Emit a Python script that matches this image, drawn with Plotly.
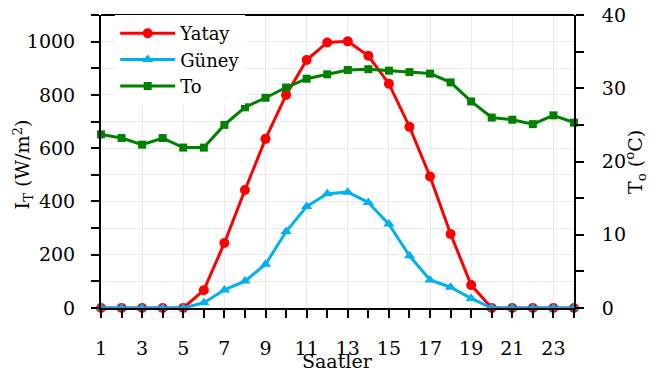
import plotly.graph_objects as go

hours = list(range(1, 25))

# Irradiance on horizontal surface (W/m2)
yatay = [0, 0, 0, 0, 0, 67, 244, 443, 635, 800, 931, 997, 1001, 947, 842, 680,
         494, 278, 86, 0, 0, 0, 0, 0]
# Irradiance on south-facing surface (W/m2)
guney = [0, 0, 0, 0, 0, 20, 68, 101, 164, 287, 381, 429, 435, 396, 315, 196,
         105, 78, 36, 0, 0, 0, 0, 0]
# Outdoor temperature (°C)
to_temp = [23.7, 23.2, 22.3, 23.2, 21.9, 21.9, 25.0, 27.4, 28.7, 30.1, 31.3, 31.9,
           32.5, 32.6, 32.4, 32.2, 32.0, 30.8, 28.2, 26.0, 25.7, 25.1, 26.3, 25.3]

x_tick_vals = list(range(1, 24, 2))
left_ticks = [0, 200, 400, 600, 800, 1000]
right_ticks = [0, 10, 20, 30, 40]

FONT = "DejaVu Serif"
GRID = "#EBEBEB"

fig = go.Figure()
fig.add_trace(go.Scatter(
    x=hours, y=yatay, name="Yatay", mode="lines+markers",
    line=dict(color="#FF0000", width=3),
    marker=dict(symbol="circle", size=10, color="#FF0000"),
    cliponaxis=False,
))
fig.add_trace(go.Scatter(
    x=hours, y=guney, name="Güney", mode="lines+markers",
    line=dict(color="#00B0F0", width=3),
    marker=dict(symbol="triangle-up", size=10, color="#00B0F0"),
    cliponaxis=False,
))
fig.add_trace(go.Scatter(
    x=hours, y=to_temp, name="To", mode="lines+markers", yaxis="y2",
    line=dict(color="#008000", width=3),
    marker=dict(symbol="square", size=8, color="#008000"),
    cliponaxis=False,
))

axis_title = dict(xref="paper", yref="paper", showarrow=False,
                  font=dict(size=19, family=FONT), xanchor="center",
                  yanchor="middle")

fig.update_layout(
    width=668, height=371,
    margin=dict(l=101, r=94, t=15, b=63, autoexpand=False),
    paper_bgcolor="white", plot_bgcolor="white",
    font=dict(family=FONT, size=19, color="black"),
    showlegend=True,
    legend=dict(
        x=0.03, y=1.0, xanchor="left", yanchor="top",
        bgcolor="white", font=dict(size=18, family=FONT),
        itemwidth=55, tracegroupgap=0,
    ),
    xaxis=dict(
        range=[1, 24], tickvals=x_tick_vals, ticktext=[str(v) for v in x_tick_vals],
        showline=True, linecolor="black", linewidth=2, mirror=False,
        ticks="outside", ticklen=8, tickcolor="black", tickwidth=1.5,
        ticklabelstandoff=14, automargin=False,
        tickfont=dict(size=19),
        showgrid=True, gridcolor=GRID, gridwidth=1,
        minor=dict(dtick=1, tick0=1, ticks="outside", ticklen=8,
                   tickcolor="black", showgrid=False),
        zeroline=False,
    ),
    yaxis=dict(
        range=[0, 1100], tickvals=left_ticks,
        showline=True, linecolor="black", linewidth=2,
        ticks="outside", ticklen=8, tickcolor="black", tickwidth=1.5,
        ticklabelstandoff=12, automargin=False,
        tickfont=dict(size=19),
        showgrid=True, gridcolor=GRID, gridwidth=1,
        minor=dict(dtick=100, tick0=0, ticks="outside", ticklen=8,
                   tickcolor="black", showgrid=True, gridcolor=GRID),
        zeroline=False,
    ),
    yaxis2=dict(
        range=[0, 40], tickvals=right_ticks, overlaying="y", side="right",
        showline=True, linecolor="black", linewidth=2,
        ticks="outside", ticklen=8, tickcolor="black", tickwidth=1.5,
        ticklabelstandoff=14, automargin=False,
        tickfont=dict(size=19),
        showgrid=False, zeroline=False,
        minor=dict(dtick=5, tick0=0, ticks="outside", ticklen=8,
                   tickcolor="black"),
    ),
    annotations=[
        dict(text="Saatler", x=0.5, y=-0.18, **axis_title),
        dict(text="I<sub>T</sub> (W/m<sup>2</sup>)", x=-0.165, y=0.49,
             textangle=-90, **axis_title),
        dict(text="T<sub>o</sub> (<sup>o</sup>C)", x=1.13, y=0.5,
             textangle=-90, **axis_title),
    ],
    shapes=[dict(type="line", xref="paper", yref="paper", x0=0, x1=1, y0=1, y1=1,
                 line=dict(color="black", width=2))],
)

fig.write_html("out.html")
